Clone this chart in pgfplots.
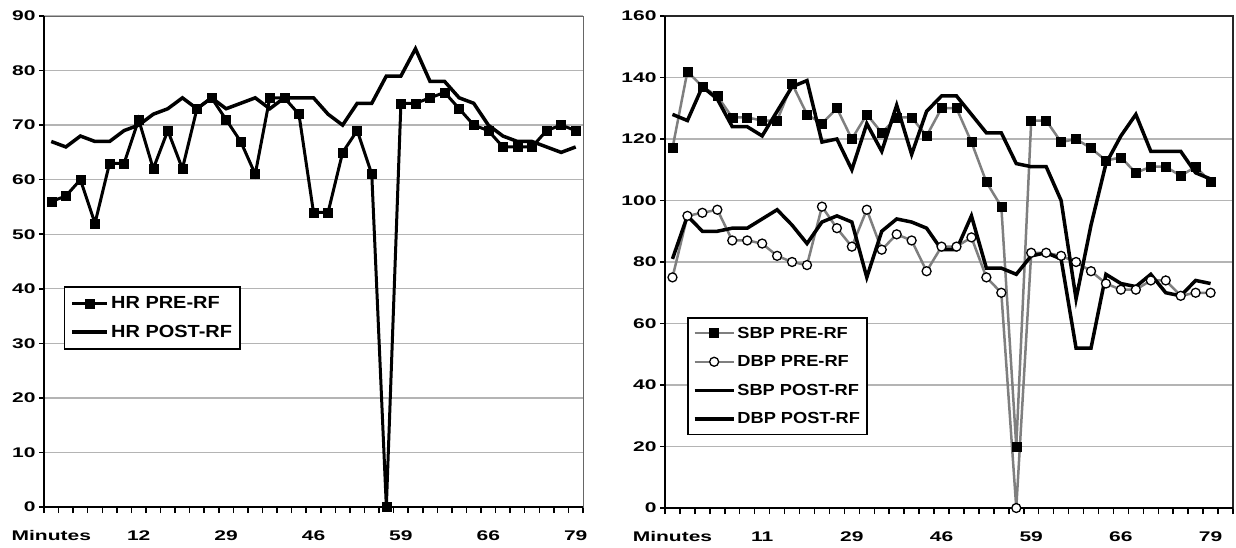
\documentclass[border=0pt]{standalone}
\usepackage{fontspec}
\setmainfont{Liberation Sans}
\newfontfamily\tickfont{Liberation Sans}[FakeStretch=1.5]
\newfontfamily\legfont{Liberation Sans}[FakeStretch=1.14]
\usepackage{pgfplots}
\usepackage{pgfplotstable}
\pgfplotsset{compat=1.18}
\definecolor{gridgray}{HTML}{B4B4B4}
\definecolor{pregray}{HTML}{7F7F7F}

\pgfplotstableread{
x hrpre hrpost
0 56 67
1 57 66
2 60 68
3 52 67
4 63 67
5 63 69
6 71 70
7 62 72
8 69 73
9 62 75
10 73 73
11 75 75
12 71 73
13 67 74
14 61 75
15 75 73
16 75 75
17 72 75
18 54 75
19 54 72
20 65 70
21 69 74
22 61 74
23 0 79
24 74 79
25 74 84
26 75 78
27 76 78
28 73 75
29 70 74
30 69 70
31 66 68
32 66 67
33 66 67
34 69 66
35 70 65
36 69 66
}\hrdata

\pgfplotstableread{
x sbppre dbppre sbppost dbppost
0 117 75 128 81
1 142 95 126 95
2 137 96 137 90
3 134 97 133 90
4 127 87 124 91
5 127 87 124 91
6 126 86 121 94
7 126 82 129 97
8 138 80 137 92
9 128 79 139 86
10 125 98 119 93
11 130 91 120 95
12 120 85 110 93
13 128 97 125 75
14 122 84 116 90
15 127 89 131 94
16 127 87 115 93
17 121 77 129 91
18 130 85 134 84
19 130 85 134 84
20 119 88 128 95
21 106 75 122 78
22 98 70 122 78
23 20 0 112 76
24 126 83 111 82
25 126 83 111 83
26 119 82 100 81
27 120 80 68 52
28 117 77 92 52
29 113 73 112 76
30 114 71 121 73
31 109 71 128 72
32 111 74 116 76
33 111 74 116 70
34 108 69 116 69
35 111 70 109 74
36 106 70 107 73
}\bpdata

\pgfplotsset{
  mystyle/.style={
    scale only axis,
    clip=false,
    axis line style={draw=black!60, line width=1pt},
    ymajorgrids,
    grid style={gridgray, line width=1.3pt},
    tick align=outside,
    tick pos=left,
    major tick length=5pt,
    minor tick length=6pt,
    major x tick style={draw=none},
    minor x tick style={black, line width=1.5pt},
    major y tick style={black, line width=1.5pt},
    ymin=0,
    xmin=-0.5,
    xtick={0,6,...,36},
    xticklabels={Minutes,12,29,46,59,66,79},
    /pgf/number format/assume math mode=true,
    tick label style={font=\tickfont\bfseries\fontsize{14}{14}\selectfont},
    xticklabel style={yshift=-15pt},
    legend cell align=left,
  },
}

\begin{document}
\begin{tikzpicture}
\useasboundingbox (0,0) rectangle (1236pt,547pt);
% Left chart: HR
\begin{axis}[mystyle,
  at={(44pt,40pt)}, anchor=south west,
  width=539pt, height=491pt,
  xmax=36.5, ymax=90,
  ytick={0,10,...,90},
  minor xtick={-0.5,0.5,...,36.5},
  legend image code/.code={\draw[mark repeat=2,mark phase=2,#1] plot coordinates {(0pt,0pt) (17.5pt,0pt) (35pt,0pt)};},
  legend style={at={(0.037,0.45)}, anchor=north west, draw=black, line width=1.5pt, fill=white,
    font=\legfont\bfseries\fontsize{17.5}{19}\selectfont, row sep=11pt, inner xsep=6pt, inner ysep=8pt},
]
\addplot[black, line width=3pt, mark=square*, mark size=4.5pt, mark options={solid, fill=black, draw=black, line width=0.5pt}] table[x=x, y=hrpre] {\hrdata};
\addlegendentry{HR PRE-RF}
\addplot[black, line width=3.5pt, no marks] table[x=x, y=hrpost] {\hrdata};
\addlegendentry{HR POST-RF}
\draw[black, line width=2pt] (rel axis cs:0,1) -- (rel axis cs:0,0) -- (rel axis cs:1,0);
\end{axis}

% Right chart: BP
\begin{axis}[mystyle,
  at={(665pt,39pt)}, anchor=south west,
  width=568pt, height=492pt,
  xmax=37.5, ymax=160,
  ytick={0,20,...,160},
  xticklabels={Minutes,11,29,46,59,66,79},
  minor xtick={-0.5,0.5,...,37.5},
  axis line style={draw=black!85, line width=1.5pt},
  legend image code/.code={\draw[mark repeat=2,mark phase=2,#1] plot coordinates {(0pt,0pt) (19.5pt,0pt) (39pt,0pt)};},
  legend style={at={(0.039,0.388)}, anchor=north west, draw=black, line width=1.5pt, fill=white,
    font=\legfont\bfseries\fontsize{16}{18}\selectfont, row sep=12pt, inner xsep=5pt, inner ysep=7pt},
]
\addplot[pregray, line width=2.5pt, mark=square*, mark size=4.5pt, mark options={solid, fill=black, draw=black, line width=0.5pt}] table[x=x, y=sbppre] {\bpdata};
\addlegendentry{SBP PRE-RF}
\addplot[pregray, line width=2.5pt, mark=*, mark size=4.5pt, mark options={solid, fill=white, draw=black, line width=1.3pt}] table[x=x, y=dbppre] {\bpdata};
\addlegendentry{DBP PRE-RF}
\addplot[black, line width=3.5pt, no marks] table[x=x, y=sbppost] {\bpdata};
\addlegendentry{SBP POST-RF}
\addplot[black, line width=3.5pt, no marks] table[x=x, y=dbppost] {\bpdata};
\addlegendentry{DBP POST-RF}
\draw[black, line width=2pt] (rel axis cs:0,1) -- (rel axis cs:0,0) -- (rel axis cs:1,0);
\end{axis}
\end{tikzpicture}
\end{document}
